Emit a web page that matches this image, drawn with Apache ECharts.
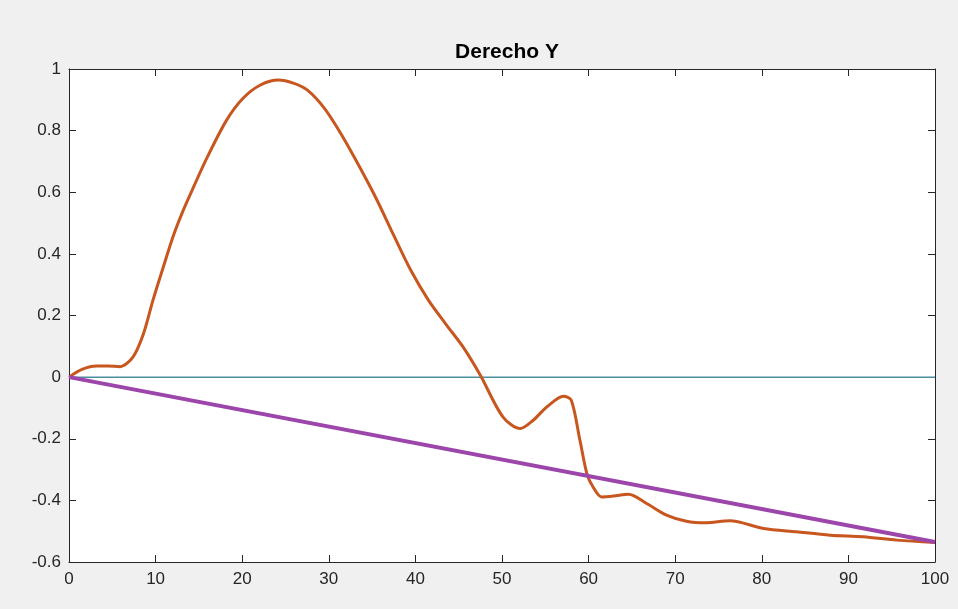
<!DOCTYPE html>
<html>
<head>
<meta charset="utf-8">
<script src="https://cdn.jsdelivr.net/npm/echarts@6/dist/echarts.min.js"></script>
<style>
html,body{margin:0;padding:0;background:#f0f0f0;}
#chart{width:958px;height:609px;}
</style>
</head>
<body>
<div id="chart"></div>
<script>
var titleText = "Derecho Y";
var curveX = [0, 1.5, 3.2, 4.5, 5.9, 7.4, 8.6, 9.7, 10.9, 12.0, 13.2, 14.4, 15.9, 18.2, 20.1, 22.1, 24.2, 25.9, 27.5, 29.5, 31.5, 33.5, 35.5, 37.5, 39.5, 41.5, 43.6, 45.5, 47.5, 50.1, 52.1, 53.6, 55.2, 57.1, 58.0, 59.0, 59.8, 60.5, 61.5, 62.9, 64.6, 66.7, 69.0, 71.3, 73.5, 76.3, 80.2, 84.0, 87.9, 91.7, 95.6, 100];
var curveY = [0, 0.025, 0.036, 0.036, 0.034, 0.066, 0.141, 0.25, 0.358, 0.455, 0.542, 0.618, 0.71, 0.834, 0.905, 0.948, 0.964, 0.954, 0.932, 0.872, 0.785, 0.685, 0.578, 0.46, 0.345, 0.25, 0.169, 0.098, 0.006, -0.129, -0.167, -0.14, -0.096, -0.062, -0.075, -0.205, -0.313, -0.356, -0.389, -0.386, -0.38, -0.41, -0.448, -0.468, -0.473, -0.466, -0.491, -0.502, -0.513, -0.518, -0.529, -0.537];
var zeroLineX = [0, 100];
var zeroLineY = [0, 0];
var diagX = [0, 100];
var diagY = [0, -0.535];
var xTicks = [0, 10, 20, 30, 40, 50, 60, 70, 80, 90, 100];
var yTicks = [-0.6, -0.4, -0.2, 0, 0.2, 0.4, 0.6, 0.8, 1];

function pairs(xs, ys){ return xs.map(function(x,i){ return [x, ys[i]]; }); }

var axisColor = '#262626';
var fontFam = '"Liberation Sans", Arial, Helvetica, sans-serif';
var chart = echarts.init(document.getElementById('chart'), null, {renderer:'canvas'});
var grid = {left:69, right:23, top:69, bottom:47, show:true, backgroundColor:'#ffffff', borderWidth:0, containLabel:false};
function xAx(pos, showLabels){
  return {type:'value', position:pos, min:xTicks[0], max:xTicks[xTicks.length-1], interval:10,
    axisLine:{show:true, onZero:false, lineStyle:{color:axisColor, width:1}},
    axisTick:{show:true, inside:true, length:7, lineStyle:{color:axisColor}},
    axisLabel:{show:showLabels, color:axisColor, fontSize:17, fontFamily:fontFam, margin:9},
    splitLine:{show:false}};
}
function yAx(pos, showLabels){
  return {type:'value', position:pos, min:yTicks[0], max:yTicks[yTicks.length-1], interval:0.2,
    axisLine:{show:true, onZero:false, lineStyle:{color:axisColor, width:1}},
    axisTick:{show:true, inside:true, length:7, lineStyle:{color:axisColor}},
    axisLabel:{show:showLabels, color:axisColor, fontSize:17, fontFamily:fontFam, margin:8,
      formatter:function(v){ return String(Math.round(v*10)/10); }},
    splitLine:{show:false}};
}
chart.setOption({
  backgroundColor:'#f0f0f0',
  animation:false,
  title:{text:titleText, left:502, textAlign:'center', top:37,
    textStyle:{fontSize:21, fontWeight:'bold', color:'#000000', fontFamily:fontFam}},
  grid:grid,
  xAxis:[xAx('bottom', true), xAx('top', false)],
  yAxis:[yAx('left', true), yAx('right', false)],
  series:[
    {type:'line', data:pairs(zeroLineX, zeroLineY), showSymbol:false, symbol:'none',
      lineStyle:{color:'#4a8fa0', width:1.5}, z:2},
    {type:'line', data:pairs(curveX, curveY), showSymbol:false, symbol:'none', smooth:0.3,
      lineStyle:{color:'#c7561f', width:3}, z:3},
    {type:'line', data:pairs(diagX, diagY), showSymbol:false, symbol:'none',
      lineStyle:{color:'#9c45aa', width:4}, z:4}
  ]
});
</script>
</body>
</html>
